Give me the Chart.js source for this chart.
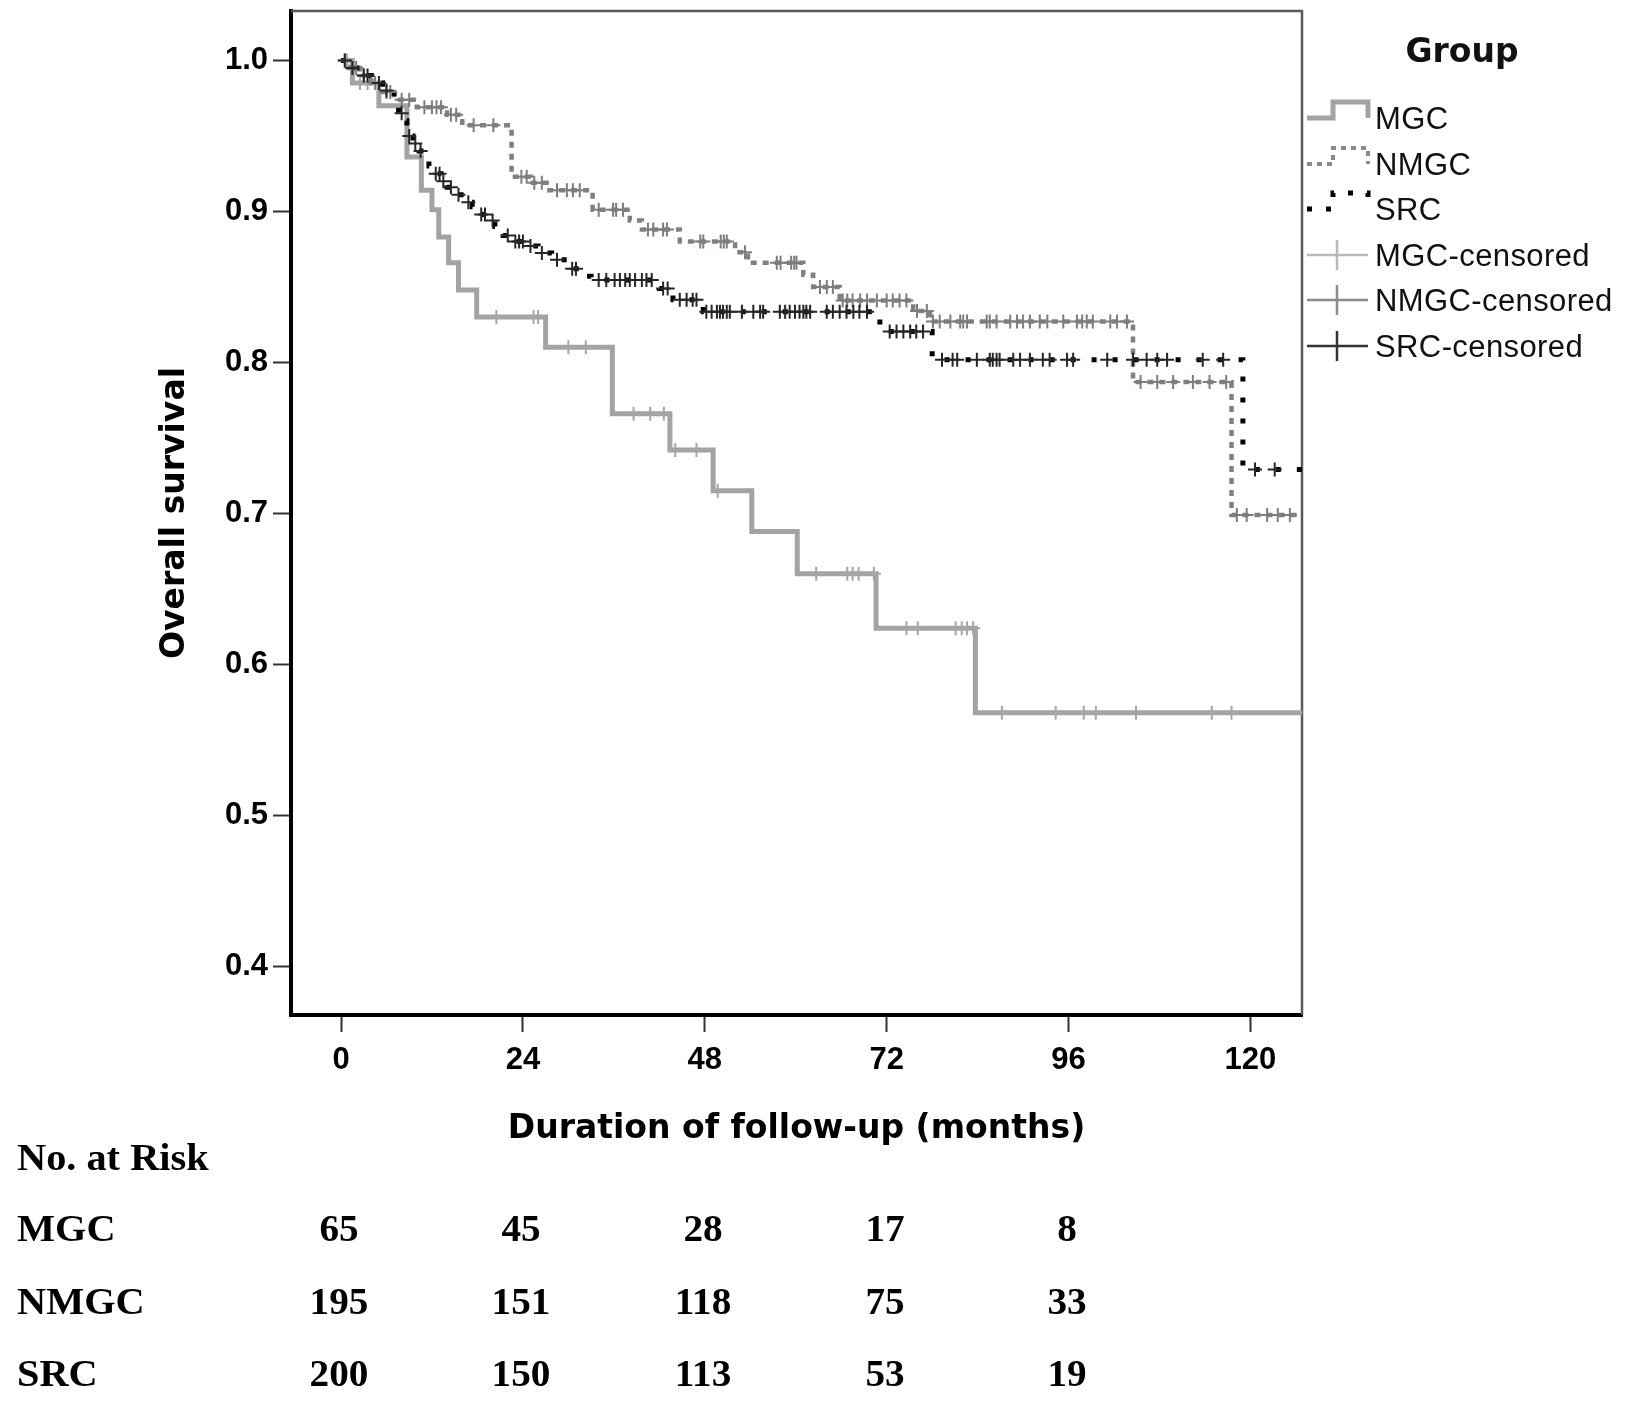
<!DOCTYPE html>
<html><head><meta charset="utf-8">
<script src="https://cdn.jsdelivr.net/npm/chart.js@4.4.1/dist/chart.umd.min.js"></script>
<style>
html,body{margin:0;padding:0;background:#fff;}
#wrap{position:relative;width:1643px;height:1426px;overflow:hidden;background:#fff;}
#c{position:absolute;left:0;top:0;}
.lg{position:absolute;font-family:"Liberation Sans",Arial,sans-serif;font-size:31px;color:#111;line-height:1;white-space:nowrap;transform:translateY(-50%);letter-spacing:0.4px;}
.lgt{position:absolute;font-family:"DejaVu Sans",sans-serif;font-weight:bold;font-size:33px;color:#111;line-height:1;white-space:nowrap;transform:translate(-50%,-50%);}
.sym{position:absolute;}
.rk{position:absolute;font-family:"Liberation Serif","Times New Roman",serif;font-weight:bold;font-size:37px;color:#000;line-height:1;white-space:nowrap;}
</style></head>
<body><div id="wrap"><canvas id="c" width="1643" height="1426"></canvas></div>
<script>
// ---------- data ----------
const xTicks = [0, 24, 48, 72, 96, 120];
const yTicks = [0.4, 0.5, 0.6, 0.7, 0.8, 0.9, 1.0];
const groupNames = ['MGC', 'NMGC', 'SRC'];

const mgcTimes = [0, 1.5, 5.0, 8.7, 10.6, 12.0, 12.9, 14.2, 15.5, 17.9, 27.0, 35.8, 43.4, 49.1, 54.2, 60.2, 70.6, 83.7, 127];
const mgcSurv  = [1.0, 0.985, 0.970, 0.936, 0.914, 0.901, 0.883, 0.866, 0.848, 0.830, 0.810, 0.766, 0.742, 0.715, 0.688, 0.660, 0.624, 0.568, 0.568];

const nmgcTimes = [0, 1.0, 2.5, 4.0, 5.5, 7.0, 10.0, 14.0, 16.0, 22.5, 25.0, 27.5, 33.2, 38.1, 39.7, 44.7, 52.0, 53.7, 61.0, 62.3, 65.8, 75.5, 77.7, 104.5, 117.5, 127];
const nmgcSurv  = [1.0, 0.995, 0.990, 0.985, 0.979, 0.974, 0.969, 0.964, 0.957, 0.923, 0.919, 0.914, 0.901, 0.894, 0.888, 0.880, 0.873, 0.866, 0.858, 0.850, 0.841, 0.834, 0.827, 0.787, 0.699, 0.699];

const srcTimes = [0, 1.0, 2.5, 4.0, 5.5, 7.0, 7.6, 8.2, 8.7, 9.5, 10.3, 11.0, 11.6, 12.3, 13.2, 14.0, 15.0, 16.2, 17.3, 18.4, 19.3, 20.3, 21.4, 22.5, 24.5, 26.0, 27.8, 29.8, 31.5, 33.0, 42.0, 43.8, 47.8, 71.1, 78.0, 119.0, 127];
const srcSurv  = [1.0, 0.995, 0.990, 0.985, 0.980, 0.975, 0.965, 0.960, 0.950, 0.945, 0.940, 0.935, 0.930, 0.925, 0.920, 0.916, 0.911, 0.906, 0.903, 0.898, 0.894, 0.890, 0.884, 0.880, 0.877, 0.8725, 0.868, 0.862, 0.857, 0.8546, 0.849, 0.8414, 0.8336, 0.8204, 0.8017, 0.729, 0.729];

const mgcCensor = [0.8, 2.5, 3.5, 20.5, 25.4, 26.0, 30.0, 32.3, 38.6, 40.8, 42.6, 44.1, 46.9, 49.7, 62.7, 66.8, 67.5, 68.3, 70.3, 74.6, 76.1, 81.1, 81.9, 82.6, 83.4, 87.2, 94.3, 98.0, 99.6, 104.9, 114.9, 117.5];
const nmgcCensor = [0.5, 1.5, 2.0, 3.0, 4.5, 6.0, 6.5, 8.0, 9.0, 11.0, 12.0, 12.6, 13.2, 14.5, 15.2, 17.5, 20.1, 23.8, 24.5, 25.5, 26.5, 28.5, 29.8, 30.6, 31.5, 34.0, 35.9, 36.3, 37.2, 40.5, 41.2, 42.5, 43.0, 47.4, 47.8, 50.1, 50.5, 50.9, 53.3, 57.5, 58.0, 59.4, 59.8, 60.1, 63.2, 64.1, 64.9, 66.2, 66.8, 67.5, 68.5, 69.4, 70.7, 72.0, 72.8, 73.7, 74.6, 76.0, 77.3, 78.1, 79.0, 80.4, 81.7, 82.1, 82.6, 85.2, 85.6, 86.5, 88.3, 89.2, 90.0, 90.9, 92.2, 93.2, 95.3, 97.1, 97.8, 98.4, 99.2, 101.5, 102.4, 103.7, 105.5, 107.7, 109.8, 112.4, 114.6, 116.8, 118.2, 119.5, 122.2, 123.6, 125.2];
const srcCensor = [0.5, 1.5, 3.0, 3.5, 5.0, 6.0, 8.0, 9.0, 9.8, 10.5, 12.5, 13.0, 13.5, 14.5, 15.5, 16.8, 18.5, 19.0, 20.0, 22.0, 23.0, 23.5, 24.0, 25.0, 26.5, 28.5, 30.5, 31.0, 34.0, 35.0, 36.1, 36.8, 37.5, 38.1, 38.8, 39.7, 40.3, 41.0, 42.5, 43.1, 44.7, 45.6, 46.4, 46.9, 48.2, 48.9, 49.6, 50.0, 50.4, 50.9, 51.3, 52.9, 54.4, 55.3, 55.7, 57.9, 58.6, 59.2, 59.9, 60.5, 61.0, 61.4, 61.9, 64.1, 64.9, 65.8, 66.7, 67.6, 68.4, 69.4, 72.4, 73.3, 74.2, 75.1, 75.9, 76.8, 79.3, 80.7, 81.3, 83.9, 85.6, 86.0, 86.5, 86.9, 88.7, 89.6, 90.9, 92.6, 93.5, 95.8, 96.6, 101.1, 104.5, 106.3, 107.7, 109.0, 113.7, 116.4, 120.6, 123.2];

const riskTimes = [0, 24, 48, 72, 96];
const riskMGC  = [65, 45, 28, 17, 8];
const riskNMGC = [195, 151, 118, 75, 33];
const riskSRC  = [200, 150, 113, 53, 19];

// ---------- helpers ----------
function steps(times, surv) { return times.map((t, i) => ({x: t, y: surv[i]})); }
function survAt(times, surv, t) {
  let s = surv[0];
  for (let i = 0; i < times.length; i++) { if (times[i] <= t) s = surv[i]; else break; }
  return s;
}
function censorPts(cens, times, surv) { return cens.map(t => ({x: t, y: survAt(times, surv, t)})); }

const tickFont = {family: '"Liberation Sans", Arial, sans-serif', size: 31, weight: 'bold'};
const titleFont = {family: '"DejaVu Sans", sans-serif', size: 33, weight: 'bold'};

function censorDs(label, data, color, order) {
  return {label, data, showLine: false, pointStyle: 'cross', pointRadius: 7, pointHoverRadius: 7,
    pointBorderWidth: 2, pointBorderColor: color, pointBackgroundColor: color, borderColor: color, order};
}

const frame = {
  id: 'frame',
  beforeDatasetsDraw(chart) {
    const {ctx, chartArea: a} = chart;
    ctx.save();
    ctx.strokeStyle = '#5a5a5a';
    ctx.lineWidth = 2.5;
    ctx.beginPath();
    ctx.moveTo(a.left, a.top); ctx.lineTo(a.right, a.top); ctx.lineTo(a.right, a.bottom);
    ctx.stroke();
    ctx.restore();
  }
};

function zeroPad(s) { s.paddingTop = 0; s.paddingBottom = 0; s.paddingLeft = 0; s.paddingRight = 0; }

const chart = new Chart(document.getElementById('c'), {
  type: 'line',
  data: {
    datasets: [
      censorDs('SRC-censored', censorPts(srcCensor, srcTimes, srcSurv), '#262626', 0),
      censorDs('NMGC-censored', censorPts(nmgcCensor, nmgcTimes, nmgcSurv), '#7d7d7d', 1),
      censorDs('MGC-censored', censorPts(mgcCensor, mgcTimes, mgcSurv), '#a6a6a6', 2),
      {label: 'SRC', data: steps(srcTimes, srcSurv), stepped: 'before', borderColor: '#000', borderWidth: 5,
        borderDash: [5, 16], pointRadius: 0, fill: false, order: 3},
      {label: 'NMGC', data: steps(nmgcTimes, nmgcSurv), stepped: 'before', borderColor: '#808080', borderWidth: 4.5,
        borderDash: [6, 6], pointRadius: 0, fill: false, order: 4},
      {label: 'MGC', data: steps(mgcTimes, mgcSurv), stepped: 'before', borderColor: '#a3a3a3', borderWidth: 5,
        pointRadius: 0, fill: false, order: 5}
    ]
  },
  options: {
    responsive: false,
    animation: false,
    devicePixelRatio: 1,
    layout: {padding: {left: 0, top: 11, right: 341, bottom: 261}},
    plugins: {legend: {display: false}, tooltip: {enabled: false}},
    elements: {line: {tension: 0}},
    scales: {
      x: {
        type: 'linear', min: -6.6, max: 126.8,
        afterBuildTicks: s => { s.ticks = xTicks.map(v => ({value: v})); },
        afterFit: s => { s.height = 150; zeroPad(s); },
        ticks: {font: tickFont, color: '#000', padding: 10, maxRotation: 0, autoSkip: false, callback: v => String(v)},
        grid: {drawOnChartArea: false, drawTicks: true, tickLength: 17, tickWidth: 2, tickColor: '#333'},
        border: {display: true, color: '#000', width: 4},
        title: {display: true, text: 'Duration of follow-up (months)', font: titleFont, color: '#000', padding: {top: 0, bottom: 16}}
      },
      y: {
        type: 'linear', min: 0.3678, max: 1.0327,
        afterBuildTicks: s => { s.ticks = yTicks.map(v => ({value: v})); },
        afterFit: s => { s.width = 291; zeroPad(s); },
        ticks: {font: tickFont, color: '#000', padding: 5, callback: v => Number(v).toFixed(1)},
        grid: {drawOnChartArea: false, drawTicks: true, tickLength: 18, tickWidth: 2, tickColor: '#333'},
        border: {display: true, color: '#000', width: 4},
        title: {display: true, text: 'Overall survival', font: titleFont, color: '#000', padding: {top: 156, bottom: 0}}
      }
    }
  },
  plugins: [frame]
});

// ---------- legend (HTML) ----------
const wrap = document.getElementById('wrap');
function add(html) { wrap.insertAdjacentHTML('beforeend', html); }
add('<div class="lgt" style="left:1462px;top:50px;">Group</div>');
const legendRows = [
  {text: 'MGC', kind: 'step', color: '#a3a3a3', w: 5, dash: ''},
  {text: 'NMGC', kind: 'step', color: '#8a8a8a', w: 4, dash: '5 5'},
  {text: 'SRC', kind: 'step', color: '#000', w: 5, dash: '5 14'},
  {text: 'MGC-censored', kind: 'cens', color: '#b8b8b8'},
  {text: 'NMGC-censored', kind: 'cens', color: '#8c8c8c'},
  {text: 'SRC-censored', kind: 'cens', color: '#333'}
];
legendRows.forEach((r, i) => {
  const cy = 118 + i * 45.5;
  let svg;
  if (r.kind === 'step') {
    svg = `<svg class="sym" style="left:1305px;top:${cy - 22}px" width="68" height="34"><path d="M2 22 H28 V6 H63 V22" fill="none" stroke="${r.color}" stroke-width="${r.w}" ${r.dash ? 'stroke-dasharray="' + r.dash + '"' : ''}/></svg>`;
  } else {
    svg = `<svg class="sym" style="left:1305px;top:${cy - 20}px" width="68" height="40"><path d="M2 20 H63 M32 5 V35" fill="none" stroke="${r.color}" stroke-width="2.5"/></svg>`;
  }
  add(svg);
  add(`<div class="lg" style="left:1375px;top:${cy}px;">${r.text}</div>`);
});

// ---------- risk table (HTML, positioned by the x scale) ----------
add('<div class="rk" style="left:17px;top:1157px;transform-origin:0 50%;transform:translateY(-50%) scaleX(1.09);">No. at Risk</div>');
const riskRows = [[groupNames[0], riskMGC, 1228], [groupNames[1], riskNMGC, 1301], [groupNames[2], riskSRC, 1373]];
riskRows.forEach(([name, vals, cy]) => {
  add(`<div class="rk" style="left:17px;top:${cy}px;transform-origin:0 50%;transform:translateY(-50%) scaleX(1.09);">${name}</div>`);
  vals.forEach((v, i) => {
    const px = chart.scales.x.getPixelForValue(riskTimes[i]) - 2;
    add(`<div class="rk" style="left:${px}px;top:${cy}px;transform:translate(-50%,-50%) scaleX(1.06);">${v}</div>`);
  });
});
</script>
</body></html>
